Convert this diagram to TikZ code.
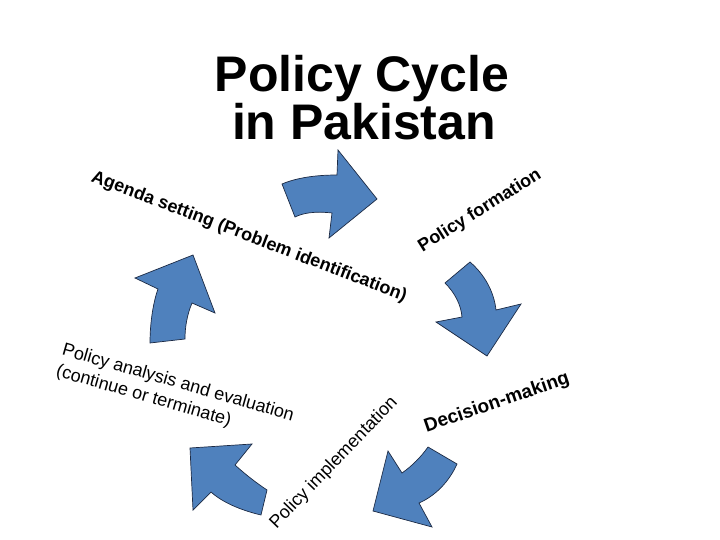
\documentclass[tikz,border=0pt]{standalone}
\usepackage{fontspec}
\setmainfont{Liberation Sans}
\usetikzlibrary{positioning}
\definecolor{arrowblue}{RGB}{79,129,189}
\definecolor{arrowedge}{RGB}{28,42,68}

\begin{document}
\begin{tikzpicture}[x=1pt, y=-1pt,
    cyclearrow/.style = {fill=arrowblue, draw=arrowedge, line width=0.7pt, line join=miter},
    titletext/.style = {font=\fontsize{50}{50}\selectfont\bfseries, inner sep=0pt},
    stagebold/.style = {font=\fontsize{18}{22}\selectfont\bfseries, inner sep=0pt},
    stageplain/.style = {font=\fontsize{18}{22}\selectfont, inner sep=0pt, align=left}]
  \useasboundingbox (0,0) rectangle (720,540);

  % title
  \node[titletext, anchor=base] (titleone) at (362,92) {Policy Cycle};
  \node[titletext, anchor=base] (titletwo) at (364,140) {in Pakistan};

  % the five curved arrows of the cycle
  \draw[cyclearrow] (295,217) -- (282,184) .. controls (296,178) and (315,175) .. (337,175)
    -- (338,150) -- (377,199) -- (329,238) -- (332,213)
    .. controls (315,211) and (303,213) .. (295,217) -- cycle;
  \draw[cyclearrow] (470,262) -- (445,283) .. controls (455,293) and (461,305) .. (462,317)
    -- (436,322) -- (487,356) -- (521,304) -- (496,310)
    .. controls (494,292) and (485,275) .. (470,262) -- cycle;
  \draw[cyclearrow] (388,451) -- (402,473) .. controls (412,466) and (421,457) .. (428,447)
    -- (457,464) .. controls (449,482) and (435,496) .. (419,503)
    -- (432,527) -- (373,511) -- cycle;
  \draw[cyclearrow] (190,448) -- (252,444) -- (235,465) .. controls (245,474) and (255,482) .. (267,490)
    -- (261,515) .. controls (240,510) and (222,502) .. (211,492)
    -- (193,510) -- cycle;
  \draw[cyclearrow] (135,278) -- (193,255) -- (215,313) -- (192,303)
    .. controls (187,315) and (185,327) .. (185,339)
    -- (150,343) .. controls (150,320) and (154,300) .. (158,289) -- cycle;

  % stage labels
  \node[stagebold, rotate=-21] (agenda) at (249,237) {Agenda setting (Problem identification)};
  \node[stagebold, rotate=32] (formation) at (480,211) {Policy formation};
  \node[stagebold, rotate=19, font=\fontsize{19}{22}\selectfont\bfseries] (decision) at (497,403) {Decision-making};
  \node[stageplain, rotate=46] (implement) at (334,463) {Policy implementation};
  \node[stageplain, rotate=-16] (analysis) at (175,394) {Policy analysis and evaluation\\(continue or terminate)};
\end{tikzpicture}
\end{document}
